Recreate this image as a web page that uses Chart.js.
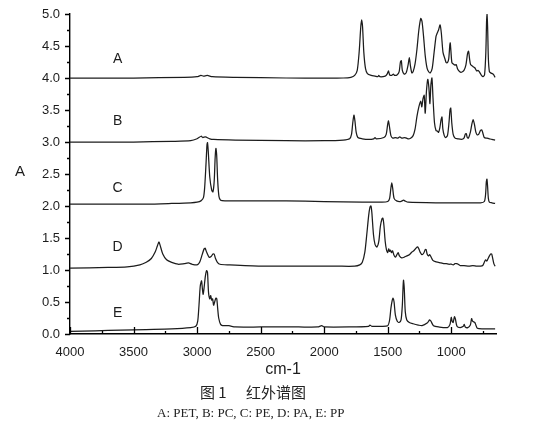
<!DOCTYPE html>
<html>
<head>
<meta charset="utf-8">
<script src="https://cdn.jsdelivr.net/npm/chart.js@4/dist/chart.umd.min.js"></script>
<style>
  html, body { margin: 0; padding: 0; background: #fff; }
  #wrap { position: relative; width: 536px; height: 439px; }
  canvas { position: absolute; left: 0; top: 0; }
  .cap1 { position: absolute; top: 384px; font-family: "Noto Sans CJK SC", sans-serif; font-size: 15px; line-height: 15px; color: #222; white-space: pre; }
  .cap2 { position: absolute; left: 157px; top: 406px; font-family: "Liberation Serif", "DejaVu Serif", serif; font-size: 13px; line-height: 13px; color: #222; white-space: pre; }
</style>
</head>
<body>
<div id="wrap">
  <canvas id="c" width="536" height="439"></canvas>
  <div class="cap1" style="left:200px">图 1</div>
  <div class="cap1" style="left:246px">红外谱图</div>
  <div class="cap2">A: PET, B: PC, C: PE, D: PA, E: PP</div>
</div>
<script>
// ---- data (wavenumber cm-1, absorbance with offsets as in the figure) ----
const seriesNames = ['A', 'B', 'C', 'D', 'E'];
const xTicks = [1000, 1500, 2000, 2500, 3000, 3500, 4000];
const xMinorTicks = [750, 1250, 1750, 2250, 2750, 3250, 3750];
const yTicks = [0, 0.5, 1, 1.5, 2, 2.5, 3, 3.5, 4, 4.5, 5];
const yMinorTicks = [0.25, 0.75, 1.25, 1.75, 2.25, 2.75, 3.25, 3.75, 4.25, 4.75];

const aWn = [4000,3500,3100,3000,2970,2950,2920,2880,2700,2300,2000,1850,1790,1760,1740,1725,1712,1705,1698,1688,1675,1660,1630,1600,1578,1570,1562,1520,1505,1494,1485,1470,1455,1445,1425,1410,1400,1393,1385,1370,1355,1340,1330,1322,1310,1300,1285,1270,1255,1240,1230,1218,1205,1190,1175,1165,1150,1135,1120,1113,1100,1088,1078,1065,1050,1040,1030,1020,1012,1008,1002,995,985,970,961,950,935,920,900,885,872,864,856,848,830,815,800,790,780,765,750,738,728,722,719,714,708,700,690,670,655];
const aAbs = [4.00,4.00,4.01,4.02,4.04,4.03,4.04,4.02,4.01,4.00,4.00,4.00,4.01,4.04,4.12,4.40,4.80,4.91,4.80,4.40,4.15,4.07,4.04,4.03,4.02,4.04,4.02,4.03,4.06,4.11,4.05,4.04,4.06,4.04,4.05,4.10,4.25,4.27,4.12,4.06,4.08,4.20,4.32,4.20,4.08,4.10,4.22,4.45,4.75,4.93,4.88,4.65,4.35,4.15,4.09,4.08,4.15,4.40,4.65,4.69,4.75,4.83,4.70,4.40,4.30,4.24,4.24,4.30,4.50,4.55,4.40,4.24,4.22,4.20,4.21,4.14,4.10,4.09,4.12,4.20,4.38,4.42,4.30,4.21,4.18,4.16,4.11,4.12,4.10,4.05,4.02,4.05,4.40,4.90,5.00,4.80,4.30,4.10,4.08,4.06,4.01];

const bWn = [4000,3500,3200,3050,3000,2968,2955,2935,2900,2870,2700,2300,2000,1850,1800,1785,1775,1766,1758,1748,1735,1700,1650,1610,1600,1590,1530,1512,1500,1494,1487,1475,1460,1440,1420,1405,1390,1365,1340,1320,1300,1285,1270,1255,1240,1232,1222,1213,1205,1195,1185,1176,1168,1160,1152,1144,1132,1120,1110,1100,1090,1080,1073,1066,1055,1045,1030,1018,1010,1004,996,985,970,950,920,900,890,882,874,865,850,838,828,818,806,795,785,770,760,750,740,720,700,680,655];
const bAbs = [3.00,3.00,3.01,3.02,3.05,3.09,3.07,3.08,3.05,3.04,3.03,3.02,3.02,3.03,3.05,3.12,3.30,3.42,3.33,3.15,3.07,3.05,3.04,3.05,3.07,3.05,3.07,3.12,3.28,3.33,3.25,3.10,3.06,3.07,3.06,3.08,3.06,3.07,3.05,3.06,3.10,3.20,3.40,3.55,3.64,3.55,3.68,3.73,3.45,3.80,3.98,3.85,3.60,3.90,4.00,3.70,3.30,3.18,3.17,3.15,3.22,3.35,3.39,3.20,3.10,3.07,3.10,3.30,3.50,3.53,3.30,3.12,3.06,3.05,3.04,3.06,3.12,3.13,3.07,3.06,3.15,3.28,3.35,3.28,3.15,3.11,3.12,3.18,3.19,3.13,3.07,3.06,3.05,3.04,3.03];

const cWn = [4000,3700,3400,3200,3050,3000,2970,2950,2940,2930,2922,2918,2912,2900,2885,2875,2865,2858,2852,2846,2838,2828,2815,2780,2600,2300,2000,1700,1550,1500,1485,1475,1468,1461,1450,1430,1400,1375,1365,1340,1100,900,770,740,730,724,719,714,708,700,680,655];
const cAbs = [2.03,2.03,2.03,2.04,2.05,2.06,2.08,2.13,2.30,2.65,2.96,2.99,2.85,2.45,2.25,2.22,2.40,2.75,2.90,2.80,2.40,2.15,2.09,2.08,2.08,2.08,2.07,2.06,2.06,2.07,2.12,2.28,2.36,2.28,2.12,2.08,2.07,2.09,2.08,2.06,2.05,2.05,2.05,2.07,2.18,2.38,2.42,2.30,2.12,2.06,2.05,2.04];

const dWn = [4000,3700,3550,3450,3400,3360,3330,3312,3300,3290,3270,3240,3200,3150,3100,3068,3040,3000,2980,2960,2945,2937,2925,2905,2890,2875,2866,2855,2840,2820,2750,2500,2200,1900,1760,1720,1700,1680,1665,1650,1640,1632,1625,1612,1600,1585,1570,1558,1545,1538,1530,1520,1510,1500,1492,1485,1478,1470,1462,1452,1440,1430,1418,1408,1390,1370,1350,1330,1310,1295,1278,1265,1255,1245,1230,1215,1205,1198,1190,1180,1170,1158,1145,1125,1100,1080,1060,1040,1020,1000,985,970,958,945,930,900,860,830,800,770,752,740,730,720,710,700,690,682,674,665,655];
const dAbs = [1.03,1.04,1.05,1.08,1.12,1.18,1.28,1.38,1.44,1.38,1.25,1.16,1.12,1.09,1.10,1.11,1.09,1.08,1.12,1.24,1.33,1.34,1.28,1.20,1.21,1.25,1.25,1.18,1.12,1.09,1.08,1.06,1.06,1.06,1.06,1.08,1.12,1.28,1.55,1.85,1.98,2.00,1.90,1.55,1.40,1.36,1.45,1.68,1.80,1.81,1.70,1.45,1.32,1.27,1.33,1.29,1.31,1.27,1.30,1.24,1.20,1.23,1.27,1.22,1.19,1.20,1.22,1.24,1.28,1.30,1.34,1.36,1.33,1.28,1.24,1.27,1.32,1.32,1.25,1.22,1.24,1.20,1.15,1.13,1.12,1.11,1.10,1.10,1.09,1.09,1.08,1.10,1.10,1.09,1.07,1.07,1.06,1.07,1.06,1.06,1.07,1.12,1.16,1.14,1.18,1.22,1.25,1.25,1.18,1.10,1.06];

const eWn = [4000,3800,3600,3400,3200,3050,3010,2995,2985,2975,2965,2958,2952,2945,2935,2925,2918,2910,2900,2893,2885,2878,2870,2862,2852,2845,2838,2830,2815,2800,2750,2700,2500,2200,2050,2020,2000,1800,1650,1640,1625,1550,1500,1485,1475,1465,1458,1450,1440,1425,1410,1395,1385,1380,1376,1370,1362,1350,1330,1300,1260,1230,1190,1170,1160,1140,1100,1030,1010,1000,993,985,975,968,955,930,905,898,890,870,850,840,832,815,808,795,750,700,655];
const eAbs = [0.04,0.05,0.06,0.07,0.08,0.10,0.12,0.20,0.45,0.75,0.83,0.70,0.62,0.72,0.90,0.99,0.96,0.65,0.55,0.60,0.53,0.55,0.45,0.50,0.56,0.55,0.40,0.25,0.15,0.13,0.13,0.11,0.11,0.11,0.11,0.13,0.11,0.11,0.12,0.14,0.12,0.12,0.13,0.22,0.40,0.52,0.56,0.50,0.30,0.20,0.18,0.22,0.45,0.70,0.84,0.72,0.35,0.22,0.18,0.16,0.14,0.13,0.17,0.22,0.20,0.13,0.11,0.10,0.15,0.26,0.20,0.18,0.27,0.24,0.12,0.10,0.12,0.15,0.11,0.10,0.14,0.24,0.20,0.18,0.15,0.09,0.08,0.08,0.08];

// anchor of each in-plot series letter (wavenumber, absorbance)
const letterWn = 3625;
const letterAbs = [4.30, 3.33, 2.28, 1.36, 0.33];

const seriesWn = [aWn, bWn, cWn, dWn, eWn];
const seriesAbs = [aAbs, bAbs, cAbs, dAbs, eAbs];

const FONT = '"Liberation Sans", Arial, sans-serif';
const INK = '#1c1c1c';

const datasets = seriesNames.map((n, i) => ({
  label: n,
  data: seriesWn[i].map((w, k) => ({ x: w, y: seriesAbs[i][k] })),
  borderColor: INK,
  borderWidth: 1.25,
  pointRadius: 0,
  tension: 0.25,
  fill: false
}));

const decor = {
  id: 'decor',
  afterDraw(chart) {
    const ctx = chart.ctx;
    const xs = chart.scales.x, ys = chart.scales.y;
    const a = chart.chartArea;
    ctx.save();
    ctx.strokeStyle = '#000';
    ctx.lineWidth = 1.3;
    ctx.beginPath();
    yTicks.forEach(v => { const p = Math.round(ys.getPixelForValue(v)) + 0.5; ctx.moveTo(a.left - 5, p); ctx.lineTo(a.left, p); });
    yMinorTicks.forEach(v => { const p = Math.round(ys.getPixelForValue(v)) + 0.5; ctx.moveTo(a.left - 3, p); ctx.lineTo(a.left, p); });
    xTicks.forEach(v => { const p = Math.round(xs.getPixelForValue(v)) + 0.5; ctx.moveTo(p, a.bottom); ctx.lineTo(p, a.bottom - 7); });
    xMinorTicks.forEach(v => { const p = Math.round(xs.getPixelForValue(v)) + 0.5; ctx.moveTo(p, a.bottom); ctx.lineTo(p, a.bottom - 3); });
    ctx.stroke();
    // series letters
    ctx.fillStyle = INK;
    ctx.font = '14px ' + FONT;
    ctx.textAlign = 'center';
    ctx.textBaseline = 'middle';
    seriesNames.forEach((n, i) => {
      ctx.fillText(n, xs.getPixelForValue(letterWn), ys.getPixelForValue(letterAbs[i]));
    });
    // y-axis title (upright)
    ctx.font = '15px ' + FONT;
    ctx.fillText('A', 20, (a.top + a.bottom) / 2 - 2);
    ctx.restore();
  }
};

new Chart(document.getElementById('c'), {
  type: 'line',
  data: { datasets },
  plugins: [decor],
  options: {
    responsive: false,
    animation: false,
    devicePixelRatio: 1,
    layout: { padding: { left: 0, right: 40, top: 14, bottom: 54 } },
    plugins: { legend: { display: false }, tooltip: { enabled: false } },
    scales: {
      x: {
        type: 'linear',
        reverse: true,
        min: 648,
        max: 4000,
        afterBuildTicks: s => { s.ticks = xTicks.map(v => ({ value: v })); },
        afterFit: s => { s.height = 51; s.paddingLeft = 0; s.paddingRight = 0; },
        grid: { display: false, drawTicks: false },
        border: { display: true, color: '#000', width: 1.4 },
        ticks: { color: INK, font: { family: FONT, size: 13 }, padding: 11, maxRotation: 0, autoSkip: false, callback: v => String(v) },
        title: { display: true, text: 'cm-1', color: INK, font: { family: FONT, size: 16 }, padding: { top: 0, bottom: 6 } }
      },
      y: {
        type: 'linear',
        min: 0,
        max: 5,
        afterBuildTicks: s => { s.ticks = yTicks.map(v => ({ value: v })); },
        afterFit: s => { s.width = 70; s.paddingTop = 0; s.paddingBottom = 0; },
        grid: { display: false, drawTicks: false },
        border: { display: true, color: '#000', width: 1.4 },
        ticks: { color: INK, font: { family: FONT, size: 13 }, padding: 10, callback: v => Number(v).toFixed(1) }
      }
    }
  }
});
</script>
</body>
</html>
